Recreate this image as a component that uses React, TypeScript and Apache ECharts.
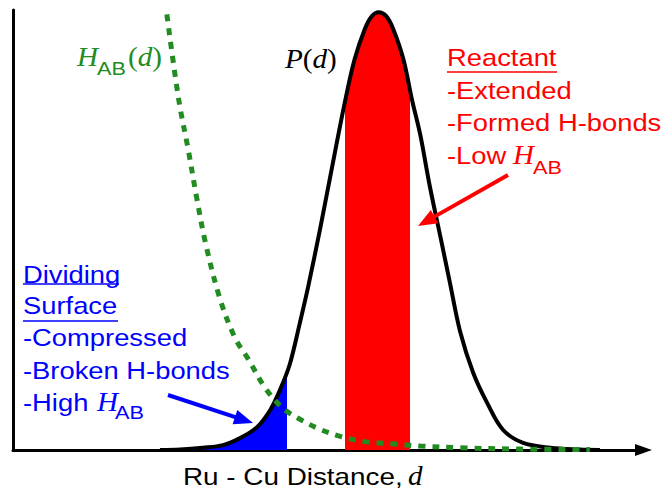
import React, { useEffect, useRef } from "react";
import * as echarts from "echarts";

// P(d): probability distribution (distance in arbitrary units, value as fraction of peak axis height)
const pDistance = [2.33, 2.65, 3.01, 3.33, 3.6, 3.87, 4.08, 4.23, 4.39, 4.55, 4.68, 4.87, 5.03, 5.27, 5.42, 5.58, 5.69, 5.8, 5.92, 6.03, 6.19, 6.33, 6.46, 6.61, 6.8, 6.93, 7.09, 7.3, 7.52, 7.77, 8.09, 8.52, 8.99, 9.31];
const pValue = [0, 0.001, 0.005, 0.011, 0.027, 0.052, 0.091, 0.135, 0.195, 0.289, 0.37, 0.502, 0.62, 0.795, 0.889, 0.957, 0.986, 0.995, 0.986, 0.957, 0.889, 0.795, 0.716, 0.6, 0.47, 0.38, 0.27, 0.175, 0.107, 0.046, 0.016, 0.005, 0.001, 0];

// H_AB(d): coupling decay
const hDistance = [2.44, 2.63, 2.78, 2.92, 3.06, 3.28, 3.52, 3.73, 4.0, 4.28, 4.55, 4.87, 5.19, 5.58, 6.03, 6.46, 7.09, 8.04, 9.15];
const hValue = [0.99, 0.795, 0.682, 0.568, 0.466, 0.345, 0.255, 0.207, 0.141, 0.095, 0.07, 0.047, 0.031, 0.019, 0.014, 0.009, 0.005, 0.002, 0.001];

// Shaded regions
const dividingEdge = 4.35;
const reactantBand = [5.27, 6.3];
const xRange = [0, 10];
const yRange = [0, 1];

const SANS = "'Liberation Sans', Arial, sans-serif";
const SERIF = "'Liberation Serif', 'Times New Roman', serif";
const RED = "#ff0000";
const BLUE = "#0000ff";
const GREEN = "#228b22";

function sans(x: number, baseline: number, text: string, fill: string, fs = 24, sx = 1.14) {
  return {
    type: "text",
    x,
    y: baseline - 0.31 * fs,
    scaleX: sx,
    z: 100,
    style: { text, fill, font: `${fs}px ${SANS}`, align: "left", verticalAlign: "middle" },
  };
}
function serif(x: number, baseline: number, text: string, fill: string, fs = 27, sx = 1.08) {
  return {
    type: "text",
    x,
    y: baseline - 0.31 * fs,
    scaleX: sx,
    z: 100,
    style: {
      text,
      fill,
      font: `${fs}px ${SERIF}`,
      align: "left",
      verticalAlign: "middle",
      padding: [0, 4, 0, 0],
      rich: { i: { fontStyle: "italic", fontFamily: SERIF, fontSize: fs, fill } },
    },
  };
}
function uline(x1: number, x2: number, y: number, stroke: string) {
  return { type: "line", z: 100, shape: { x1, y1: y, x2, y2: y }, style: { stroke, lineWidth: 1.6 } };
}
function arrow(x0: number, y0: number, x1: number, y1: number, color: string, head = 19, half = 7.5) {
  const dx = x1 - x0, dy = y1 - y0;
  const len = Math.sqrt(dx * dx + dy * dy);
  const ux = dx / len, uy = dy / len;
  const bx = x1 - ux * head, by = y1 - uy * head;
  const px = -uy * half, py = ux * half;
  return [
    { type: "line", z: 100, shape: { x1: x0, y1: y0, x2: bx + ux * 2, y2: by + uy * 2 }, style: { stroke: color, lineWidth: 4 } },
    { type: "polygon", z: 100, shape: { points: [[x1, y1], [bx + px, by + py], [bx - px, by - py]] }, style: { fill: color } },
  ];
}

export default function App() {
  const ref = useRef<HTMLDivElement>(null);
  useEffect(() => {
    const chart = echarts.init(ref.current!, null, { renderer: "svg" });
    const pData = pDistance.map((d, i) => [d, pValue[i]]);
    const hData = hDistance.map((d, i) => [d, hValue[i]]);
    const option: any = {
      animation: false,
      backgroundColor: "#ffffff",
      grid: { left: 13, right: 20.5, top: 10, bottom: 41 },
      xAxis: {
        type: "value",
        min: xRange[0],
        max: xRange[1],
        axisLine: {
          show: true,
          onZero: false,
          symbol: ["none", "triangle"],
          symbolSize: [12, 17],
          lineStyle: { color: "#000", width: 3 },
        },
        axisTick: { show: false },
        axisLabel: { show: false },
        splitLine: { show: false },
      },
      yAxis: {
        type: "value",
        min: yRange[0],
        max: yRange[1],
        axisLine: { show: true, onZero: false, lineStyle: { color: "#000", width: 3 } },
        axisTick: { show: false },
        axisLabel: { show: false },
        splitLine: { show: false },
      },
      visualMap: {
        type: "piecewise",
        show: false,
        dimension: 0,
        seriesIndex: 0,
        pieces: [
          { lt: dividingEdge, color: BLUE },
          { gte: reactantBand[0], lte: reactantBand[1], color: RED },
        ],
        outOfRange: { color: "rgba(255,255,255,0)" },
      },
      series: [
        {
          type: "line",
          data: pData,
          smooth: 0.35,
          showSymbol: false,
          lineStyle: { width: 0, opacity: 0 },
          areaStyle: { opacity: 1 },
          z: 2,
          silent: true,
        },
        {
          type: "line",
          data: pData,
          smooth: 0.35,
          showSymbol: false,
          lineStyle: { color: "#000", width: 4 },
          z: 3,
          silent: true,
        },
        {
          type: "line",
          data: hData,
          smooth: 0.35,
          showSymbol: false,
          lineStyle: { color: GREEN, width: 5, type: [7, 7], cap: "butt" },
          z: 4,
          silent: true,
        },
      ],
      graphic: [
        // H_AB(d)
        serif(77, 65, "{i|H}", GREEN),
        sans(97, 74, "AB", GREEN, 19),
        serif(128, 65, "({i|d})", GREEN),
        // P(d)
        serif(285, 67, "{i|P}({i|d})", "#000"),
        // Reactant block
        sans(447, 65, "Reactant", RED),
        uline(447, 557, 72, RED),
        sans(447, 98, "-Extended", RED),
        sans(447, 130, "-Formed H-bonds", RED),
        sans(447, 163, "-Low", RED),
        serif(513, 163, "{i|H}", RED),
        sans(533, 173, "AB", RED, 19),
        ...arrow(508, 175, 418, 226, RED),
        // Dividing surface block
        sans(23, 282, "Dividing", BLUE),
        uline(23, 119, 284, BLUE),
        sans(23, 313, "Surface", BLUE),
        uline(23, 118, 321, BLUE),
        sans(23, 345, "-Compressed", BLUE),
        sans(23, 378, "-Broken H-bonds", BLUE),
        sans(23, 410, "-High", BLUE),
        serif(97, 410, "{i|H}", BLUE),
        sans(115, 418, "AB", BLUE, 19),
        ...arrow(168, 395, 253, 423, BLUE),
        // axis title
        sans(183, 484, "Ru - Cu Distance,", "#000", 24, 1.16),
        serif(408, 484, "{i|d}", "#000"),
      ],
    };
    chart.setOption(option);
    return () => chart.dispose();
  }, []);
  return (
    <div
      ref={ref}
      style={{ position: "fixed", left: 0, top: 0, width: 664, height: 491, background: "#fff" }}
    />
  );
}
